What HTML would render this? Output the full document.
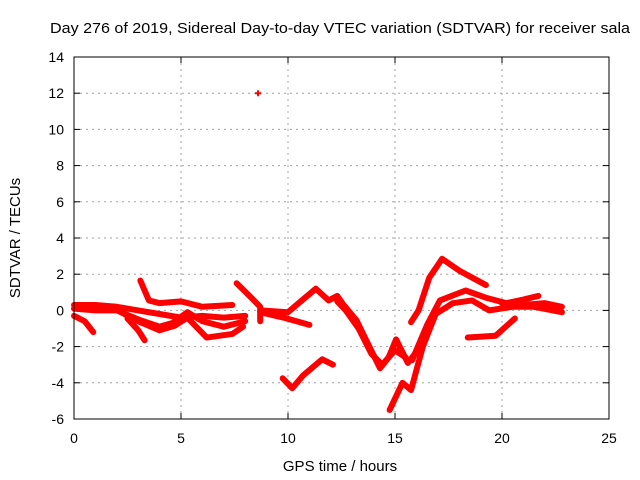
<!DOCTYPE html>
<html><head><meta charset="utf-8"><style>
body{margin:0;background:#fff}
svg{display:block;font-family:"Liberation Sans",sans-serif}
</style></head><body>
<svg id="chart" width="640" height="480">
<text x="340" y="33" font-size="15" text-anchor="middle" textLength="580" lengthAdjust="spacingAndGlyphs">Day 276 of 2019, Sidereal Day-to-day VTEC variation (SDTVAR) for receiver sala</text>
<text x="340" y="471" font-size="15" text-anchor="middle">GPS time / hours</text>
<text x="20" y="238" font-size="15" text-anchor="middle" transform="rotate(-90 20 238)">SDTVAR / TECUs</text>
<g id="grid"></g><g id="ticks"></g><g id="marks"></g>
<rect x="74" y="57" width="535" height="362" fill="none" stroke="#000" stroke-width="1"/>
</svg>
<script>
const xTicks=[0,5,10,15,20,25];
const yTicks=[-6,-4,-2,0,2,4,6,8,10,12,14];
const track1=[[0,0.3],[1,0.3],[2,0.2],[3,0],[4,-0.2],[5,-0.4],[6,-0.3],[7,-0.4],[8,-0.3]];
const track2=[[0,0.1],[1,0],[2,0],[3,-0.5],[4,-0.9],[4.6,-0.7],[5.3,-0.1],[6,-0.6],[7,-0.9],[8,-0.6]];
const track3=[[2.5,-0.45],[3,-1.1],[3.3,-1.65]];
const track4=[[2.2,-0.1],[3,-0.6],[4,-1.1],[4.7,-0.85],[5.3,-0.4],[6.2,-1.5],[7.4,-1.3],[7.9,-0.9]];
const track5=[[3.1,1.65],[3.5,0.55],[4,0.4],[5,0.5],[6,0.2],[7.4,0.3]];
const track6=[[0,-0.3],[0.5,-0.6],[0.9,-1.2]];
const track7=[[7.6,1.5],[8.2,0.8],[8.7,0.2],[8.7,-0.6]];
const track8=[[8.7,0],[10,-0.1],[10.6,0.5],[11.3,1.2],[11.9,0.55],[12.3,0.8],[12.6,0.3],[13.2,-0.55],[13.8,-2],[14.3,-3.2],[14.7,-2.6],[15.05,-1.6],[15.6,-2.9],[16,-2.3]];
const track8b=[[12.3,0.5],[12.7,0],[13.3,-1],[13.9,-2.4],[14.4,-3],[15,-2.2],[15.5,-2.6]];
const track9=[[8.7,-0.1],[9.8,-0.4],[11,-0.8]];
const track10=[[9.75,-3.75],[10.2,-4.3],[10.7,-3.6],[11.6,-2.7],[12.1,-3]];
const track11=[[14.75,-5.5],[15.35,-4.0],[15.75,-4.4],[16.3,-2.0],[16.9,-0.2],[17.7,0.4],[18.6,0.55],[19.4,0],[20.5,0.2],[21.5,0.2],[22.8,-0.1]];
const track12=[[15.8,-2.75],[16.5,-0.8],[17.1,0.55],[18.3,1.1],[19.25,0.7],[20.2,0.4],[21,0.6],[21.7,0.8]];
const track13=[[15.75,-0.65],[16.1,0],[16.6,1.8],[17.2,2.85],[18,2.2],[19.25,1.4]];
const track14=[[18.4,-1.5],[19.7,-1.4],[20.6,-0.45]];
const track15=[[20,0.4],[21,0.3],[22,0.4],[22.8,0.2]];
const outlier=[[8.6,12]];
const tracks=[track1,track2,track3,track4,track5,track6,track7,track8,track8b,track9,track10,track11,track12,track13,track14,track15];
const X=h=>74+h*535/25, Y=v=>419-(v+6)*362/20;
const NS="http://www.w3.org/2000/svg";
const grid=document.getElementById('grid'),ticks=document.getElementById('ticks'),marks=document.getElementById('marks');
function mk(tag,attrs,parent){const e=document.createElementNS(NS,tag);for(const k in attrs)e.setAttribute(k,attrs[k]);parent.appendChild(e);return e;}
xTicks.forEach(t=>{const x=X(t);
 if(t>0&&t<25){const g=mk('line',{x1:x,x2:x,y1:57,y2:419,stroke:'#a0a0a0','stroke-dasharray':'2,4'},grid);
 }
 mk('line',{x1:x,x2:x,y1:419,y2:413,stroke:'#000'},ticks);mk('line',{x1:x,x2:x,y1:57,y2:63,stroke:'#000'},ticks);
 const l=mk('text',{x:x,y:443,'font-size':14,'text-anchor':'middle'},ticks);l.textContent=t;
 });
yTicks.forEach(t=>{const y=Y(t);
 if(t>-6&&t<14){const g=mk('line',{x1:74,x2:609,y1:y,y2:y,stroke:'#a0a0a0','stroke-dasharray':'2,4'},grid);
 }
 mk('line',{x1:74,x2:80,y1:y,y2:y,stroke:'#000'},ticks);mk('line',{x1:609,x2:603,y1:y,y2:y,stroke:'#000'},ticks);
 const l=mk('text',{x:64,y:y+5,'font-size':14,'text-anchor':'end'},ticks);l.textContent=t;
 });
tracks.forEach((tr,i)=>{
 const p=mk('polyline',{points:tr.map(d=>X(d[0])+','+Y(d[1])).join(' '),fill:'none',stroke:'#f00','stroke-width':6,'stroke-linejoin':'round','stroke-linecap':'round'},marks);
 
 });
outlier.forEach(d=>{const x=X(d[0]),y=Y(d[1]);
 const p=mk('path',{d:`M${x-3},${y}H${x+3}M${x},${y-3}V${y+3}`,stroke:'#f00','stroke-width':2},marks);
 
 });
</script>
</body></html>
